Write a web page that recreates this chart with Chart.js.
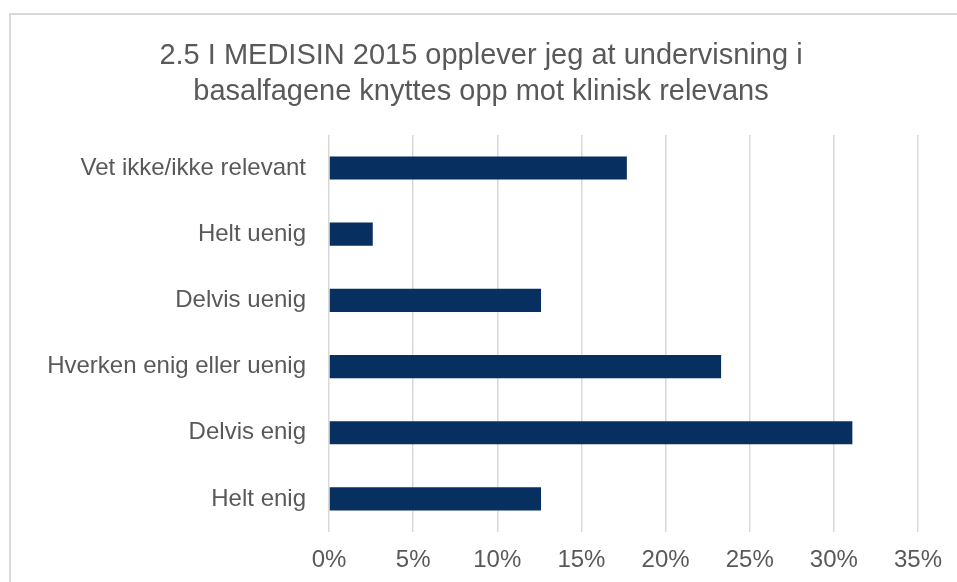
<!DOCTYPE html>
<html>
<head>
<meta charset="utf-8">
<script src="https://cdn.jsdelivr.net/npm/chart.js@4"></script>
<style>
  html, body { margin: 0; padding: 0; background: #fff; overflow: hidden; }
  #frame {
    position: absolute; left: 9px; top: 13px; width: 2000px; height: 2000px;
    border-top: 2px solid #d9d9d9; border-left: 2px solid #d9d9d9;
  }
  #wrap { position: absolute; left: 0; top: 0; width: 957px; height: 582px; }
</style>
</head>
<body>
<div id="frame"></div>
<div id="wrap"><canvas id="relevans-2015"></canvas></div>
<script>
// Svarfordeling, 2.5 MEDISIN 2015
const categories = ["Vet ikke/ikke relevant", "Helt uenig", "Delvis uenig", "Hverken enig eller uenig", "Delvis enig", "Helt enig"];
const shares = [17.7, 2.6, 12.6, 23.3, 31.1, 12.6];
const titleLines = ["2.5 I MEDISIN 2015 opplever jeg at undervisning i", "basalfagene knyttes opp mot klinisk relevans"];

const textColor = "#595959";
const fontFamily = "'Liberation Sans', Arial, sans-serif";

new Chart(document.getElementById("relevans-2015"), {
    type: 'bar',
    data: {
        labels: categories,
        datasets: [{
            label: "Andel",
            data: shares,
            backgroundColor: "#072F5F",
            barPercentage: 0.35,
            categoryPercentage: 1
        }]
    },
    options: {
        indexAxis: 'y',
        responsive: true,
        maintainAspectRatio: false,
        animation: false,
        // left padding nudges the title centre right; must stay left of the longest label
        layout: { padding: { left: 44, right: 39, top: 0, bottom: 0 } },
        plugins: {
            legend: { display: false },
            tooltip: { enabled: false },
            title: {
                display: true,
                text: titleLines,
                color: textColor,
                font: { family: fontFamily, size: 29, weight: 'normal', lineHeight: 1.24 },
                padding: { top: 38, bottom: 25 }
            }
        },
        scales: {
            x: {
                min: 0,
                max: 35,
                ticks: {
                    stepSize: 5,
                    color: textColor,
                    font: { family: fontFamily, size: 24 },
                    padding: 14,
                    callback: v => v + '%'
                },
                grid: { color: "#d9d9d9", lineWidth: 1.5, drawTicks: false },
                border: { display: false },
                afterFit: s => { s.height = 50; }
            },
            y: {
                ticks: {
                    color: textColor,
                    font: { family: fontFamily, size: 24 },
                    padding: 23
                },
                grid: { display: false, drawTicks: false },
                border: { display: false },
                afterFit: s => { s.width = 285; }
            }
        }
    }
});
</script>
</body>
</html>
